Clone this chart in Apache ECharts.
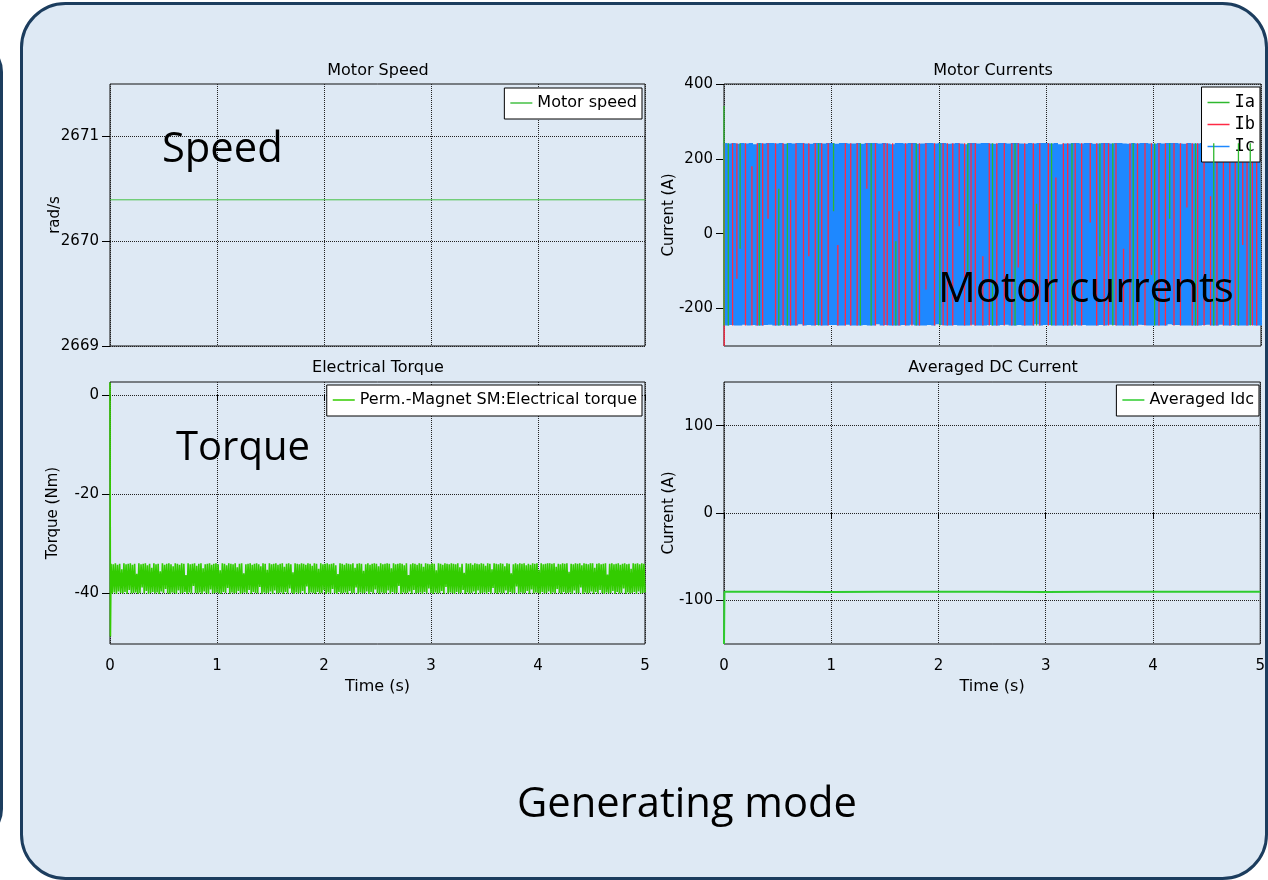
<!DOCTYPE html>
<html>
<head>
<meta charset="utf-8">
<script src="https://cdn.jsdelivr.net/npm/echarts@6/dist/echarts.min.js"></script>
<style>
  html, body { margin: 0; padding: 0; background: #ffffff; }
  #main { width: 1268px; height: 880px; }
</style>
</head>
<body>
<div id="main"></div>
<script>
// ---- time axis ----
const timeTicks = [0, 1, 2, 3, 4, 5];

// ---- Motor Speed (rad/s) ----
const speedTimes  = [0, 1, 2, 3, 4, 5];
const speedValues = [2670.395, 2670.395, 2670.395, 2670.395, 2670.395, 2670.395];
const speedTicks  = [2669, 2670, 2671];

// ---- Electrical torque (Nm): start transient, then samples every 0.01 s ----
const torqueStart  = [[0, 2.5], [0.004, -48.8]];
const torqueStep   = 0.01;
const torqueValues = [
  -34.1,-40.1,-34.2,-39.9,-34.0,-40.2,-34.3,-39.7,-34.1,-40.0,
  -35.2,-40.1,-34.0,-39.8,-34.2,-40.2,-34.1,-39.4,-34.0,-40.1,
  -34.3,-40.0,-34.1,-39.9,-36.1,-40.2,-34.0,-40.0,-34.2,-38.9,
  -34.1,-40.1,-34.0,-39.6,-34.4,-40.2,-34.1,-40.0,-34.9,-39.8,
  -34.0,-40.1,-34.2,-39.9,-34.1,-40.2,-35.6,-39.7,-34.0,-40.0,
  -34.3,-39.2,-34.1,-40.1,-34.0,-40.2,-34.2,-39.9,-34.6,-40.0,
  -34.0,-40.2,-34.1,-39.5,-34.3,-40.1,-34.0,-40.0,-34.1,-39.8,
  -36.4,-40.2,-34.0,-39.9,-34.2,-40.1,-34.1,-38.6,-34.0,-40.0,
  -34.5,-40.1,-34.1,-39.9,-34.0,-40.2,-35.0,-39.7,-34.2,-40.0,
  -34.1,-40.2,-34.0,-39.3,-34.3,-40.1,-34.1,-40.0,-34.0,-39.9,
  -34.2,-40.1,-35.4,-40.2,-34.0,-39.8,-34.1,-40.0,-34.4,-39.0,
  -34.0,-40.2,-34.1,-39.9,-34.2,-40.1,-34.0,-40.0,-34.8,-39.6,
  -34.1,-40.2,-34.0,-40.0,-36.0,-39.9,-34.2,-40.1,-34.1,-39.4,
  -34.0,-40.2,-34.3,-39.8,-34.1,-40.0,-34.0,-40.1,-34.2,-38.8,
  -34.6,-40.2,-34.0,-39.9,-34.1,-40.1,-35.3,-40.0,-34.0,-39.7,
  -34.2,-40.2,-34.1,-39.5,-34.0,-40.1,-34.3,-40.0,-34.1,-39.9,
  -34.0,-40.2,-34.7,-39.8,-34.1,-40.1,-34.0,-39.1,-34.2,-40.0,
  -35.8,-40.2,-34.0,-39.9,-34.1,-40.1,-34.2,-40.0,-34.0,-39.6,
  -34.1,-40.2,-34.3,-38.7,-34.0,-40.1,-34.1,-39.9,-34.5,-40.0,
  -34.0,-40.2,-34.1,-39.8,-35.1,-40.1,-34.0,-40.0,-34.2,-39.4,
  -34.1,-40.2,-34.0,-39.9,-34.2,-40.1,-34.1,-39.2,-34.0,-40.0,
  -34.4,-40.2,-36.2,-39.8,-34.0,-40.1,-34.1,-40.0,-34.3,-39.9,
  -34.0,-40.2,-34.1,-39.6,-34.2,-40.1,-34.0,-40.0,-34.9,-38.9,
  -34.1,-40.2,-34.0,-39.9,-34.1,-40.1,-35.5,-40.0,-34.2,-39.7,
  -34.0,-40.2,-34.3,-39.8,-34.1,-40.1,-34.0,-39.3,-34.1,-40.0,
  -34.6,-40.2,-34.0,-39.9,-34.2,-40.1,-34.1,-40.0,-34.0,-39.5,
  -34.1,-40.2,-35.0,-39.8,-34.0,-40.1,-34.2,-40.0,-34.1,-38.6,
  -34.0,-40.2,-34.1,-39.9,-34.4,-40.1,-34.0,-40.0,-36.4,-39.7,
  -34.2,-40.2,-34.0,-39.4,-34.1,-40.1,-34.3,-40.0,-34.0,-39.9,
  -34.1,-40.2,-34.7,-39.8,-34.0,-40.1,-34.1,-39.1,-34.2,-40.0,
  -34.0,-40.2,-34.1,-39.9,-35.4,-40.1,-34.0,-40.0,-34.1,-39.6,
  -34.3,-40.2,-34.0,-38.8,-34.1,-40.1,-34.2,-39.9,-34.0,-40.0,
  -34.1,-40.2,-34.2,-39.8,-34.0,-40.1,-34.8,-40.0,-34.1,-39.4,
  -35.9,-40.2,-34.0,-39.9,-34.1,-40.1,-34.0,-40.0,-34.3,-39.7,
  -34.0,-40.2,-34.1,-39.5,-34.2,-40.1,-34.0,-40.0,-34.1,-39.9,
  -34.5,-40.2,-34.0,-39.8,-34.1,-40.1,-35.2,-39.0,-34.0,-40.0,
  -34.1,-40.2,-34.2,-39.9,-34.0,-40.1,-34.1,-40.0,-34.6,-39.5,
  -34.0,-40.2,-34.1,-39.8,-36.0,-40.1,-34.2,-40.0,-34.0,-38.7,
  -34.2,-40.2,-34.0,-39.9,-34.1,-40.1,-34.0,-40.0,-34.4,-39.6,
  -34.1,-40.2,-34.3,-39.3,-34.0,-40.1,-34.1,-39.9,-34.0,-40.0,
  -35.3,-40.2,-34.0,-39.8,-34.2,-40.1,-34.1,-40.0,-34.0,-39.7,
  -34.0,-40.2,-34.1,-39.9,-34.0,-40.1,-34.7,-39.2,-34.1,-40.0,
  -34.2,-40.2,-34.0,-39.8,-34.1,-40.1,-34.0,-40.0,-35.7,-39.9,
  -34.1,-40.2,-34.2,-39.5,-34.0,-40.1,-34.1,-40.0,-34.0,-38.9,
  -34.4,-40.2,-34.0,-39.9,-34.1,-40.1,-34.2,-40.0,-34.0,-39.7,
  -34.0,-40.2,-34.9,-39.8,-34.1,-40.1,-34.0,-39.4,-34.2,-40.0,
  -34.1,-40.2,-34.0,-39.9,-36.3,-40.1,-34.1,-40.0,-34.0,-39.6,
  -34.2,-40.2,-34.1,-39.8,-34.0,-40.1,-34.3,-40.0,-34.1,-39.1,
  -34.0,-40.2,-34.2,-39.9,-34.1,-40.1,-35.1,-40.0,-34.0,-39.8,
  -34.1,-40.2,-34.0,-39.7,-34.2,-40.1,-34.0,-40.0,-34.1,-39.9
];
const torqueTicks = [-40, -20, 0];

// ---- Motor currents (A) ----
// Ic: samples every 0.02 s
const icStep = 0.02;
const icValues = [
  242,-245,241,-244,242,-245,240,-245,242,-243,
  241,-245,242,-244,239,-245,242,-245,241,-244,
  242,-243,242,-245,241,-245,242,-244,240,-245,
  242,-245,241,-245,242,-242,242,-245,241,-244,
  240,-245,242,-244,242,-245,241,-245,242,-244,
  242,-244,240,-245,242,-245,242,-243,241,-245,
  241,-245,242,-245,240,-244,242,-245,242,-245,
  242,-242,241,-245,242,-244,241,-245,239,-245,
  242,-245,242,-244,241,-245,242,-243,242,-245,
  240,-245,241,-245,242,-244,242,-245,241,-242,
  242,-244,242,-245,240,-245,241,-244,242,-245,
  241,-245,239,-245,242,-243,242,-245,241,-245,
  242,-245,242,-244,241,-245,240,-245,242,-244,
  242,-243,241,-245,242,-245,242,-244,241,-245,
  240,-245,242,-245,241,-242,242,-245,242,-244,
  242,-244,241,-245,242,-245,239,-245,241,-245,
  241,-245,242,-243,242,-245,241,-244,242,-245,
  242,-245,240,-245,241,-244,242,-245,242,-243,
  241,-244,242,-245,242,-245,241,-245,240,-245,
  242,-245,241,-243,242,-244,242,-245,241,-245,
  240,-245,242,-245,241,-245,242,-242,242,-244,
  242,-244,241,-245,240,-245,242,-245,241,-245,
  241,-245,242,-244,242,-243,241,-245,242,-245,
  242,-243,240,-245,242,-245,241,-244,242,-245,
  241,-245,242,-245,241,-244,242,-245,240,-245
];
// Ib and Ia: visible strokes as [time, upper, lower]
const ibStrips = [
  [0.002,242,-300],[0.08,242,-245],[0.12,242,-120],[0.20,242,-245],[0.26,180,-245],[0.31,242,-245],
  [0.36,242,-245],[0.41,242,40],[0.48,242,-245],[0.55,242,-245],[0.62,90,-245],[0.67,242,-245],
  [0.74,242,-245],[0.79,242,-60],[0.85,242,-245],[0.91,242,-245],[0.97,242,-245],[1.06,-30,-245],
  [1.13,242,-245],[1.18,242,-245],[1.24,242,-245],[1.33,242,120],[1.41,242,-245],[1.49,242,-245],
  [1.52,242,-245],[1.57,242,-245],[1.63,60,-245],[1.69,242,-245],[1.75,242,-245],[1.82,242,-245],
  [1.88,242,-150],[1.96,242,-245],[2.04,242,-245],[2.08,242,-245],[2.13,242,-245],[2.19,242,20],
  [2.24,242,-245],[2.30,242,-245],[2.34,242,-245],[2.41,-60,-245],[2.47,242,-245],[2.54,242,-245],
  [2.61,242,-245],[2.68,242,-245],[2.74,242,-90],[2.80,242,-245],[2.88,242,-245],[2.94,242,-245],
  [3.02,242,-245],[3.09,150,-245],[3.16,242,-245],[3.20,242,-245],[3.27,242,-245],[3.33,242,-245],
  [3.41,242,30],[3.47,242,-245],[3.54,242,-245],[3.58,242,-245],[3.65,242,-245],[3.72,-40,-245],
  [3.78,242,-245],[3.85,242,-245],[3.92,242,-245],[3.98,242,-110],[4.05,242,-245],[4.11,242,-245],
  [4.19,242,-245],[4.25,242,-245],[4.31,242,70],[4.36,242,-245],[4.41,242,-245],[4.47,242,-245],
  [4.53,100,-245],[4.59,242,-245],[4.65,242,-245],[4.71,242,-245],[4.76,242,-245],[4.83,242,-30],
  [4.87,242,-245],[4.92,242,-245],[4.96,242,-245]
];
const iaStrips = [
  [0.0,341,-245],[0.04,242,-245],[0.15,242,-40],[0.33,242,-245],[0.51,120,-245],[0.59,242,-245],
  [0.88,242,-245],[1.02,242,60],[1.27,242,-245],[1.37,242,-245],[1.60,-20,-245],[1.79,242,-245],
  [2.01,242,-245],[2.27,242,-100],[2.50,242,-245],[2.71,242,-245],[2.91,80,-245],[3.05,242,-245],
  [3.24,242,-245],[3.50,242,-60],[3.62,242,-245],[3.81,242,-245],[4.01,242,-245],[4.15,242,40],
  [4.39,242,-245],[4.56,242,-245],[4.79,242,-245],[4.90,242,-245]
];
const currentTicks = [-200, 0, 200, 400];

// ---- Averaged DC current (A) ----
const dcTimes  = [0, 0.004, 0.5, 1, 1.5, 2, 2.5, 3, 3.5, 4, 4.5, 5];
const dcValues = [-150, -90.3, -90.2, -90.4, -90.3, -90.2, -90.3, -90.4, -90.3, -90.2, -90.3, -90.3];
const dcTicks  = [-100, 0, 100];

// ---- helpers ----
const pairs = (xs, ys) => xs.map((x, i) => [x, ys[i]]);
const stripsToData = (strips) => strips.flatMap(s => [[s[0], s[1]], [s[0], s[2]], [s[0], '-']]);

const torqueData = torqueStart.concat(torqueValues.map((v, i) => [(i + 1) * torqueStep, v]));
const icData = icValues.map((v, i) => [i * icStep + 0.01, v]);

const FONT = '"DejaVu Sans", Verdana, sans-serif';
const BIG  = '"Open Sans", "Noto Sans", sans-serif';

const grids = [
  { left: 110, top: 84,  width: 535, height: 262 },
  { left: 724, top: 84,  width: 537, height: 262 },
  { left: 110, top: 382, width: 535, height: 262 },
  { left: 724, top: 382, width: 537, height: 262 }
].map(g => Object.assign({ show: true, borderColor: '#111', borderWidth: 1, backgroundColor: 'transparent' }, g));

const gridLine = { show: true, lineStyle: { color: '#222', type: [1, 1], width: 1 } };

function xAxisFor(idx, bottom) {
  return {
    type: 'value', gridIndex: idx, min: 0, max: 5, interval: 1,
    axisLine: { show: false },
    axisTick: { show: bottom, inside: false, length: 6, lineStyle: { color: '#000' } },
    axisLabel: { show: bottom, margin: 15, color: '#000', fontFamily: FONT, fontSize: 15 },
    splitLine: gridLine,
    name: bottom ? 'Time (s)' : '', nameLocation: 'middle', nameGap: 35, nameMoveOverlap: false,
    nameTextStyle: { color: '#000', fontFamily: FONT, fontSize: 16 }
  };
}
function yAxisFor(idx, min, max, ticks, name, gap) {
  return {
    type: 'value', gridIndex: idx, min: min, max: max,
    axisLine: { show: false },
    axisTick: { show: true, length: 8, customValues: ticks, lineStyle: { color: '#000' } },
    axisLabel: { margin: 11, customValues: ticks, color: '#000', fontFamily: FONT, fontSize: 15,
      formatter: v => String(v) },
    splitLine: gridLine,
    name: name, nameLocation: 'middle', nameGap: gap, nameRotate: 90, nameMoveOverlap: false,
    nameTextStyle: { color: '#000', fontFamily: FONT, fontSize: 15 }
  };
}

const legendBase = {
  backgroundColor: '#ffffff', borderColor: '#000', borderWidth: 1,
  icon: 'rect', itemWidth: 22, itemHeight: 1.5,
  textStyle: { color: '#000', fontFamily: FONT, fontSize: 16 }
};

const textEl = (x, y, text, font, align) => ({
  type: 'text', x: x, y: y, z: 100,
  style: { text: text, fill: '#000', font: font, align: align || 'center', verticalAlign: 'middle' }
});

const option = {
  animation: false,
  textStyle: { fontFamily: FONT },
  grid: grids,
  xAxis: [xAxisFor(0, false), xAxisFor(1, false), xAxisFor(2, true), xAxisFor(3, true)],
  yAxis: [
    yAxisFor(0, 2669, 2671.5, speedTicks, 'rad/s', 47),
    yAxisFor(1, -300, 400, currentTicks, 'Current (A)', 47),
    yAxisFor(2, -50.3, 2.6, torqueTicks, 'Torque (Nm)', 49),
    yAxisFor(3, -150, 150, dcTicks, 'Current (A)', 47)
  ],
  legend: [
    Object.assign({}, legendBase, { data: ['Motor speed'], right: 626, top: 88, padding: [7, 5, 8, 6] }),
    Object.assign({}, legendBase, { data: ['Ia', 'Ib', 'Ic'], orient: 'vertical', right: 8, top: 87,
      padding: [7, 5, 7, 6], itemGap: 5,
      textStyle: { color: '#000', fontFamily: '"DejaVu Sans Mono", monospace', fontSize: 17 } }),
    Object.assign({}, legendBase, { data: ['Perm.-Magnet SM:Electrical torque'], right: 626, top: 385, padding: [7, 5, 8, 6] }),
    Object.assign({}, legendBase, { data: ['Averaged Idc'], right: 9, top: 385, padding: [7, 5, 8, 6] })
  ],
  series: [
    { name: 'Motor speed', type: 'line', xAxisIndex: 0, yAxisIndex: 0, data: pairs(speedTimes, speedValues),
      showSymbol: false, symbol: 'none', lineStyle: { color: '#44c044', width: 1 }, itemStyle: { color: '#44c044' } },
    { name: 'Ic', type: 'line', xAxisIndex: 1, yAxisIndex: 1, data: icData, z: 2,
      showSymbol: false, symbol: 'none', lineStyle: { color: '#1e88ff', width: 4.3, join: 'bevel' }, itemStyle: { color: '#1e88ff' } },
    { name: 'Ib', type: 'line', xAxisIndex: 1, yAxisIndex: 1, data: stripsToData(ibStrips), z: 3,
      showSymbol: false, symbol: 'none', connectNulls: false, lineStyle: { color: '#ff2a45', width: 1.3 }, itemStyle: { color: '#ff2a45' } },
    { name: 'Ia', type: 'line', xAxisIndex: 1, yAxisIndex: 1, data: stripsToData(iaStrips), z: 4,
      showSymbol: false, symbol: 'none', connectNulls: false, lineStyle: { color: '#2eb82e', width: 1.3 }, itemStyle: { color: '#2eb82e' } },
    { name: 'Perm.-Magnet SM:Electrical torque', type: 'line', xAxisIndex: 2, yAxisIndex: 2, data: torqueData,
      showSymbol: false, symbol: 'none', lineStyle: { color: '#33cc00', width: 1.6, join: 'bevel' }, itemStyle: { color: '#33cc00' } },
    { name: 'Averaged Idc', type: 'line', xAxisIndex: 3, yAxisIndex: 3, data: pairs(dcTimes, dcValues),
      showSymbol: false, symbol: 'none', lineStyle: { color: '#2ecc2e', width: 2 }, itemStyle: { color: '#2ecc2e' } }
  ],
  graphic: [
    { type: 'rect', z: -20, shape: { x: -100, y: 42, width: 101.5, height: 797, r: 30 },
      style: { fill: '#ffffff', stroke: '#1c3d5e', lineWidth: 3 } },
    { type: 'rect', z: -10, shape: { x: 21.5, y: 3.5, width: 1245, height: 875, r: 44 },
      style: { fill: '#dee9f4', stroke: '#1c3d5e', lineWidth: 3 } },
    textEl(378, 71, 'Motor Speed', '16px ' + FONT),
    textEl(993, 71, 'Motor Currents', '16px ' + FONT),
    textEl(378, 368, 'Electrical Torque', '16px ' + FONT),
    textEl(993, 368, 'Averaged DC Current', '16px ' + FONT),
    textEl(162, 150, 'Speed', '41.7px ' + BIG, 'left'),
    textEl(176, 449, 'Torque', '40px ' + BIG, 'left'),
    textEl(938, 290, 'Motor currents', '42px ' + BIG, 'left'),
    textEl(687, 805, 'Generating mode', '41.7px ' + BIG)
  ]
};

const chart = echarts.init(document.getElementById('main'), null, { renderer: 'canvas' });
chart.setOption(option);
</script>
</body>
</html>
